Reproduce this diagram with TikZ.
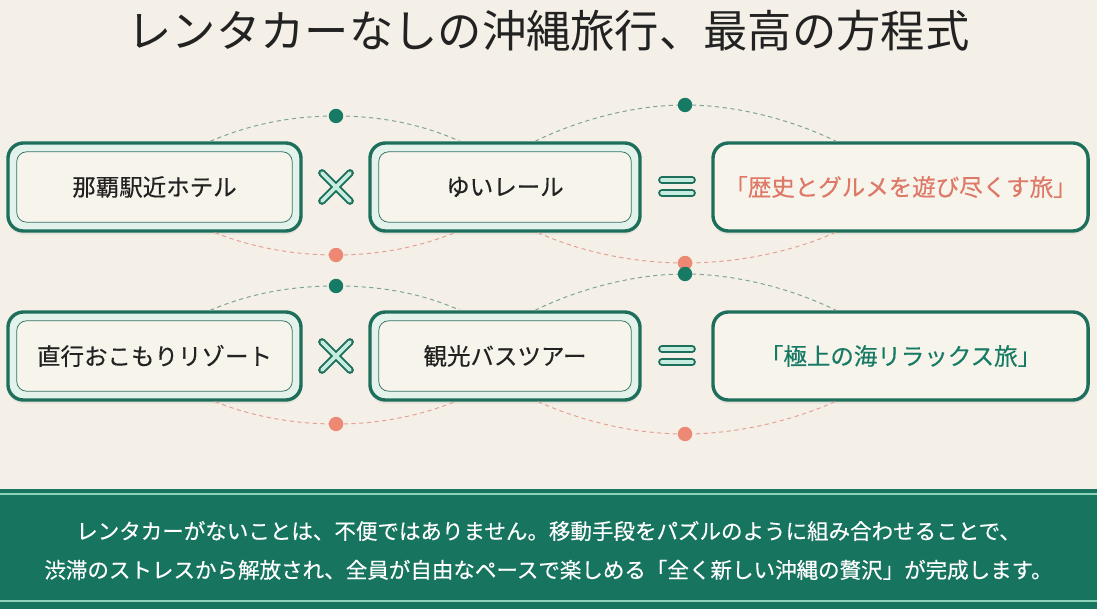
\documentclass[tikz,border=0pt]{standalone}
\usepackage{fontspec}
\setmainfont{Noto Sans CJK JP}
\newfontfamily\medfont{Noto Sans CJK JP}[FakeBold=0.35]
\usetikzlibrary{shadows}
\definecolor{paper}{HTML}{F4F0E7}
\definecolor{ink}{HTML}{222222}
\definecolor{pine}{HTML}{1D6F5C}
\definecolor{okteal}{HTML}{177A64}
\definecolor{mintband}{HTML}{E3F2EA}
\definecolor{mintsym}{HTML}{C6ECDF}
\definecolor{cream}{HTML}{F7F4EC}
\definecolor{coral}{HTML}{EC8873}
\definecolor{coraltext}{HTML}{DE7867}
\definecolor{sage}{HTML}{7FA394}
\definecolor{rose}{HTML}{E6A092}
\definecolor{banner}{HTML}{17745F}
\definecolor{bannerline}{HTML}{8ED2BC}

\begin{document}
\begin{tikzpicture}[x=0.025cm, y=-0.025cm,
  font=\fontsize{16.7}{20}\selectfont,
  pick/.style={draw=pine, line width=2.4pt, rounded corners=11pt, fill=mintband,
               minimum height=2.2cm, inner sep=0pt, text=ink, font=\fontsize{16.7}{20}\medfont,
               drop shadow={shadow xshift=0pt, shadow yshift=-2.5pt, opacity=0.12},
               path picture={\draw[pine!75!gray, line width=0.55pt, fill=cream, rounded corners=7pt]
                 ([shift={(0.22cm,-0.22cm)}]path picture bounding box.north west) rectangle
                 ([shift={(-0.22cm,0.22cm)}]path picture bounding box.south east);}},
  goal/.style={draw=pine, line width=2.4pt, rounded corners=11pt, fill=cream,
               minimum width=9.375cm, minimum height=2.2cm, inner sep=0pt,
               font=\fontsize{16.7}{20}\medfont,
               drop shadow={shadow xshift=0pt, shadow yshift=-2.5pt, opacity=0.12}},
  dot/.style={circle, inner sep=0pt, minimum size=0.36cm},
  topdash/.style={sage, line width=0.7pt, dash pattern=on 3pt off 2.5pt},
  lowdash/.style={rose, line width=0.7pt, dash pattern=on 3pt off 2.5pt},
  symout/.style={pine, line width=5.5pt, line cap=round},
  symin/.style={mintsym, line width=2.6pt, line cap=round}]

\fill[paper] (0,0) rectangle (1097,609);
\useasboundingbox (0,0) rectangle (1097,609);

\node[font=\fontsize{31.5}{36}\selectfont, text=ink] (title) at (548.5,31)
     {レンタカーなしの沖縄旅行、最高の方程式};

% first equation
\node[pick, minimum width=7.325cm] (hotel) at (154.5,187) {那覇駅近ホテル};
\node[pick, minimum width=6.75cm] (rail) at (505,187) {ゆいレール};
\node[goal, text=coraltext] (gourmet) at (900.5,187) {「歴史とグルメを遊び尽くす旅」};

\coordinate (ht1) at (336,116);
\coordinate (rt1) at (685,105);
\coordinate (hb1) at (336,255);
\coordinate (rb1) at (685,263);
\draw[topdash] ([xshift=1.39cm]hotel.north) .. controls +(40,-17) and +(-45,0) .. (ht1)
      .. controls +(45,0) and +(-38,-17) .. ([xshift=-1.125cm]rail.north);
\draw[topdash] ([xshift=0.75cm]rail.north) .. controls +(45,-22) and +(-50,0) .. (rt1)
      .. controls +(50,0) and +(-45,-22) .. ([xshift=-1.61cm]gourmet.north);
\draw[lowdash] ([xshift=1.51cm]hotel.south) .. controls +(38,15) and +(-42,0) .. (hb1)
      .. controls +(42,0) and +(-38,15) .. ([xshift=-1.25cm]rail.south);
\draw[lowdash] ([xshift=0.825cm]rail.south) .. controls +(45,20) and +(-50,0) .. (rb1)
      .. controls +(50,0) and +(-45,20) .. ([xshift=-1.64cm]gourmet.south);
\node[dot, fill=okteal] (htdot1) at (ht1) {};
\node[dot, fill=okteal] (rtdot1) at (rt1) {};
\node[dot, fill=coral] (hbdot1) at (hb1) {};
\node[dot, fill=coral] (rbdot1) at (rb1) {};

\coordinate (times1) at (336,187);
\coordinate (equals1) at (677,186.5);
\draw[symout] ([shift={(-14,-14)}]times1) -- ([shift={(14,14)}]times1)
              ([shift={(-14,14)}]times1) -- ([shift={(14,-14)}]times1);
\draw[symin]  ([shift={(-14,-14)}]times1) -- ([shift={(14,14)}]times1)
              ([shift={(-14,14)}]times1) -- ([shift={(14,-14)}]times1);
\draw[symout] ([shift={(-15,-6.5)}]equals1) -- ([shift={(15,-6.5)}]equals1)
              ([shift={(-15,6.5)}]equals1) -- ([shift={(15,6.5)}]equals1);
\draw[symin]  ([shift={(-15,-6.5)}]equals1) -- ([shift={(15,-6.5)}]equals1)
              ([shift={(-15,6.5)}]equals1) -- ([shift={(15,6.5)}]equals1);

% second equation
\node[pick, minimum width=7.325cm] (resort) at (154.5,356) {直行おこもりリゾート};
\node[pick, minimum width=6.75cm] (bus) at (505,356) {観光バスツアー};
\node[goal, text=okteal] (sea) at (900.5,356) {「極上の海リラックス旅」};

\coordinate (ht2) at (336,286);
\coordinate (rt2) at (685,274);
\coordinate (hb2) at (336,424);
\coordinate (rb2) at (685,434);
\draw[topdash] ([xshift=1.39cm]resort.north) .. controls +(40,-17) and +(-45,0) .. (ht2)
      .. controls +(45,0) and +(-38,-17) .. ([xshift=-1.125cm]bus.north);
\draw[topdash] ([xshift=0.75cm]bus.north) .. controls +(45,-22) and +(-50,0) .. (rt2)
      .. controls +(50,0) and +(-45,-22) .. ([xshift=-1.61cm]sea.north);
\draw[lowdash] ([xshift=1.51cm]resort.south) .. controls +(38,15) and +(-42,0) .. (hb2)
      .. controls +(42,0) and +(-38,15) .. ([xshift=-1.25cm]bus.south);
\draw[lowdash] ([xshift=0.825cm]bus.south) .. controls +(45,20) and +(-50,0) .. (rb2)
      .. controls +(50,0) and +(-45,20) .. ([xshift=-1.64cm]sea.south);
\node[dot, fill=okteal] (htdot2) at (ht2) {};
\node[dot, fill=okteal] (rtdot2) at (rt2) {};
\node[dot, fill=coral] (hbdot2) at (hb2) {};
\node[dot, fill=coral] (rbdot2) at (rb2) {};

\coordinate (times2) at (336,356);
\coordinate (equals2) at (677,355.5);
\draw[symout] ([shift={(-14,-14)}]times2) -- ([shift={(14,14)}]times2)
              ([shift={(-14,14)}]times2) -- ([shift={(14,-14)}]times2);
\draw[symin]  ([shift={(-14,-14)}]times2) -- ([shift={(14,14)}]times2)
              ([shift={(-14,14)}]times2) -- ([shift={(14,-14)}]times2);
\draw[symout] ([shift={(-15,-6.5)}]equals2) -- ([shift={(15,-6.5)}]equals2)
              ([shift={(-15,6.5)}]equals2) -- ([shift={(15,6.5)}]equals2);
\draw[symin]  ([shift={(-15,-6.5)}]equals2) -- ([shift={(15,-6.5)}]equals2)
              ([shift={(-15,6.5)}]equals2) -- ([shift={(15,6.5)}]equals2);

% summary band
\fill[banner] (0,489) rectangle (1097,609);
\draw[bannerline, line width=1.2pt] (0,494) -- (1097,494) (0,601) -- (1097,601);
\node[text=white, align=center, font=\fontsize{15.3}{27.6}\medfont] (summary) at (548.5,550.5)
     {レンタカーがないことは、不便ではありません。移動手段をパズルのように組み合わせることで、\\
      渋滞のストレスから解放され、全員が自由なペースで楽しめる「全く新しい沖縄の贅沢」が完成します。};
\end{tikzpicture}
\end{document}
